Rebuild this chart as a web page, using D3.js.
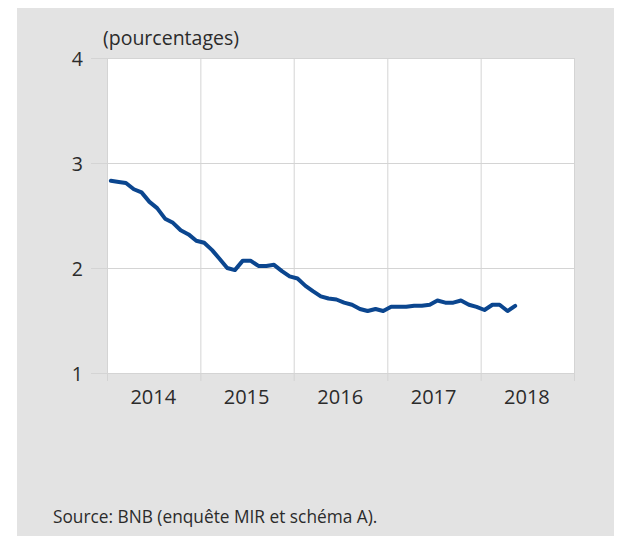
<!DOCTYPE html>
<html lang="fr">
<head>
<meta charset="UTF-8">
<title>pourcentages</title>
<script src="https://cdn.jsdelivr.net/npm/d3@7"></script>
<style>
  body { margin: 0; background: #fff; }
  text { font-family: "Open Sans", "Noto Sans", sans-serif; fill: #2b2b2b; }
</style>
</head>
<body>
<svg width="625" height="536" id="mainsvg"></svg>
<script>
// monthly values, Jan 2014 - May 2018 (percent)
const startYear = 2014;
const values = [
  2.83, 2.82, 2.81, 2.75, 2.72, 2.63, 2.57, 2.47, 2.43, 2.36, 2.32, 2.26,
  2.24, 2.17, 2.09, 2.00, 1.98, 2.07, 2.07, 2.02, 2.02, 2.03, 1.97, 1.92,
  1.90, 1.83, 1.78, 1.73, 1.71, 1.70, 1.67, 1.65, 1.61, 1.59, 1.61, 1.59,
  1.63, 1.63, 1.63, 1.64, 1.64, 1.65, 1.69, 1.67, 1.67, 1.69, 1.65, 1.63,
  1.60, 1.65, 1.65, 1.59, 1.64
];
const yearLabels = ['2014', '2015', '2016', '2017', '2018'];
const yTicks = [1, 2, 3, 4];
const unitLabel = '(pourcentages)';
const sourceLabel = 'Source: BNB (enquête MIR et schéma A).';

const data = values.map((v, i) => ({ date: new Date(startYear, i, 16), value: v }));

const svg = d3.select('#mainsvg');
const margin = { left: 107, right: 51, top: 58, bottom: 163 };
const width = +svg.attr('width');
const height = +svg.attr('height');

// grey panel
svg.append('rect')
  .attr('x', 17).attr('y', 8)
  .attr('width', 597).attr('height', height - 8)
  .attr('fill', '#e3e3e3');

const x = d3.scaleTime()
  .domain([new Date(startYear, 0, 1), new Date(startYear + yearLabels.length, 0, 1)])
  .range([margin.left, width - margin.right]);
const y = d3.scaleLinear()
  .domain([1, 4])
  .range([height - margin.bottom, margin.top]);

// plot background
svg.append('rect')
  .attr('x', x.range()[0]).attr('y', y(4))
  .attr('width', x.range()[1] - x.range()[0])
  .attr('height', y(1) - y(4))
  .attr('fill', '#fff');

const gridColor = '#d4d4d4';

// horizontal grid + y ticks
const yAxis = d3.axisLeft(y)
  .tickValues(yTicks)
  .tickSize(x.range()[1] - 91)
  .tickFormat(d3.format('d'));
svg.append('g')
  .attr('transform', `translate(${x.range()[1]},0)`)
  .call(yAxis)
  .call(g => g.select('.domain').remove())
  .call(g => g.selectAll('line').attr('stroke', gridColor))
  .call(g => g.selectAll('text')
    .attr('x', -(x.range()[1] - 83))
    .attr('dy', '0.36em')
    .attr('font-size', 19.5));

// vertical grid + x ticks
const yearStarts = d3.range(startYear, startYear + yearLabels.length + 1).map(yr => new Date(yr, 0, 1));
const xAxis = d3.axisBottom(x)
  .tickValues(yearStarts)
  .tickSize(y(1) - y(4) + 8)
  .tickFormat('');
svg.append('g')
  .attr('transform', `translate(0,${y(4)})`)
  .call(xAxis)
  .call(g => g.select('.domain').remove())
  .call(g => g.selectAll('line').attr('stroke', gridColor));

// year labels centred between ticks
svg.append('g').selectAll('text')
  .data(yearLabels)
  .join('text')
  .attr('x', d => x(new Date(+d, 6, 1)))
  .attr('y', 404)
  .attr('text-anchor', 'middle')
  .attr('font-size', 20)
  .text(d => d);

// line
const line = d3.line()
  .x(d => x(d.date))
  .y(d => y(d.value));
svg.append('path')
  .datum(data)
  .attr('d', line)
  .attr('fill', 'none')
  .attr('stroke', '#0b468f')
  .attr('stroke-width', 4)
  .attr('stroke-linejoin', 'round')
  .attr('stroke-linecap', 'round');

svg.append('text')
  .attr('x', 103).attr('y', 45)
  .attr('font-size', 19.5)
  .text(unitLabel);

svg.append('text')
  .attr('x', 53).attr('y', 523)
  .attr('font-size', 17.3)
  .text(sourceLabel);
</script>
</body>
</html>
